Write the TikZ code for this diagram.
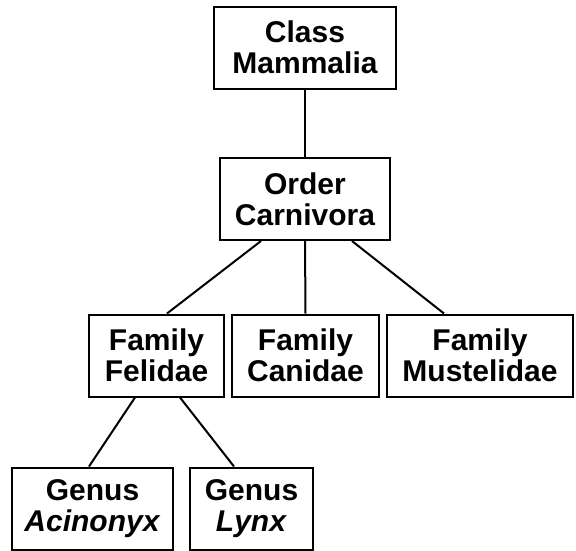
\documentclass[tikz,border=0pt]{standalone}
\usepackage{fontspec}
\setmainfont{Liberation Sans}
\usepackage{tikz}

\begin{document}
\begin{tikzpicture}[x=1pt, y=-1pt, line width=2pt,
  every node/.style={font=\fontsize{30}{31}\selectfont\bfseries},
  taxon/.style={draw, align=center, inner sep=0pt, minimum height=82pt}]
\useasboundingbox (0,0) rectangle (576,550);
\node[taxon, minimum width=182pt] (C) at (305, 47.5) {Class\\Mammalia};
\node[taxon, minimum width=170pt] (O) at (305, 199) {Order\\Carnivora};
\node[taxon, minimum width=135pt] (Fe) at (156.5, 355.5) {Family\\Felidae};
\node[taxon, minimum width=147pt] (Ca) at (305.5, 355.5) {Family\\Canidae};
\node[taxon, minimum width=186pt] (Mu) at (480, 355.5) {Family\\Mustelidae};
\node[taxon, minimum width=161pt] (Ac) at (92.5, 508.5) {Genus\\\textit{Acinonyx}};
\node[taxon, minimum width=123pt] (Ly) at (251.5, 508.5) {Genus\\\textit{Lynx}};
\draw (C) -- (O);
\draw ([xshift=-44pt]O.south) -- ([xshift=10.5pt]Fe.north);
\draw (O.south) -- (Ca.north);
\draw ([xshift=47pt]O.south) -- ([xshift=-36pt]Mu.north);
\draw ([xshift=-21.5pt]Fe.south) -- ([xshift=-3.5pt]Ac.north);
\draw ([xshift=23.5pt]Fe.south) -- ([xshift=-17.5pt]Ly.north);
\end{tikzpicture}
\end{document}
